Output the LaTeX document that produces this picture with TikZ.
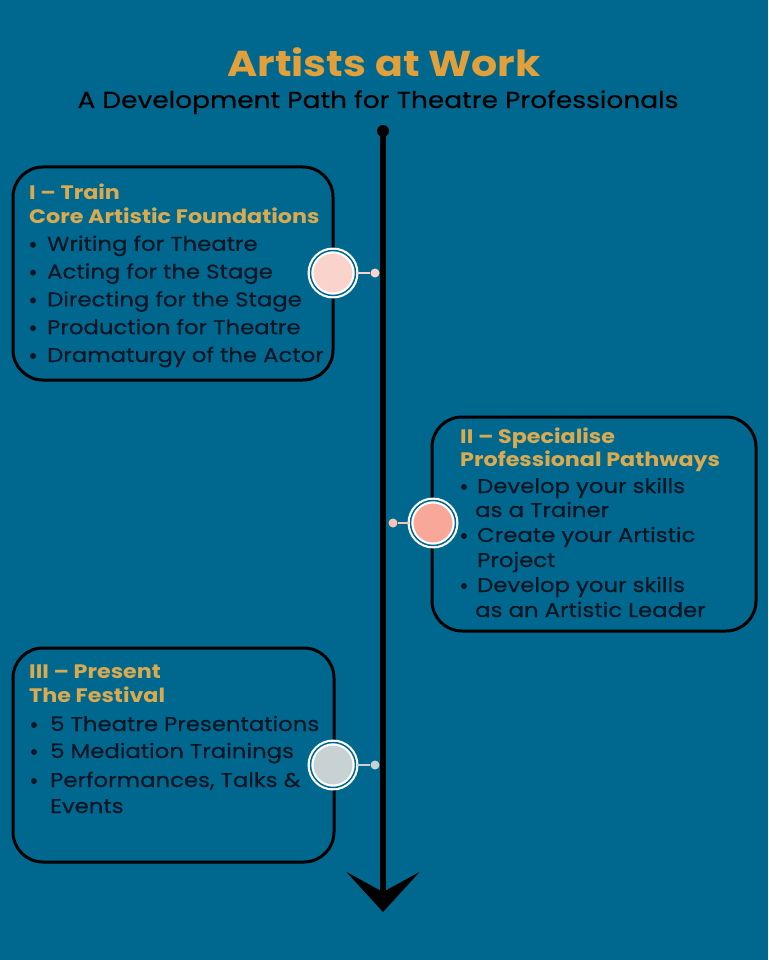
\documentclass[tikz,border=0pt]{standalone}
\usepackage{fontspec}
\setmainfont{Poppins}[FakeStretch=1.14]
\newfontfamily\bodyfont{Poppins}[FakeStretch=1.14,FakeBold=0.5]
\usetikzlibrary{arrows.meta}
\definecolor{bgblue}{RGB}{0,104,143}
\definecolor{titlegold}{RGB}{226,160,58}
\definecolor{headgold}{RGB}{218,170,80}
\definecolor{ink}{RGB}{10,22,36}
\definecolor{pinkA}{RGB}{250,212,204}
\definecolor{pinkB}{RGB}{247,168,152}
\definecolor{greyC}{RGB}{200,210,210}
\begin{document}
\begin{tikzpicture}[x=1pt,y=-1pt,
    box/.style={draw=black,line width=3pt,rounded corners=30pt},
    head/.style={anchor=base west,inner sep=0pt,text=headgold,font=\fontsize{19.5}{24}\selectfont\bfseries},
    item/.style={anchor=base west,inner sep=0pt,text=ink,font=\bodyfont\fontsize{20}{24}\selectfont},
    stop/.style={circle,draw=white,line width=2.2pt,double=bgblue,double distance=1.5pt,inner sep=0pt,minimum size=45pt},
    pin/.style={circle,inner sep=0pt,minimum size=9pt}]
\fill[bgblue] (0,0) rectangle (768,960);
% title
\node[anchor=base,inner sep=0pt,text=titlegold,font=\fontsize{36}{40}\selectfont\bfseries] (title) at (384,77) {Artists at Work};
\node[anchor=base,inner sep=0pt,text=black,font=\bodyfont\fontsize{23.2}{26}\selectfont] (sub) at (378,108) {A Development Path for Theatre Professionals};
% timeline
\node[circle,fill=black,inner sep=0pt,minimum size=12pt] (top) at (383,131) {};
\coordinate (end) at (383,912);
\draw[line width=6pt,-{Stealth[length=40pt,width=73pt,inset=20pt]}] (top.center) -- (end);
% I - Train
\draw[box] (13,167) rectangle (333,380);
\node[head] (h1a) at (29,199) {I – Train};
\node[head] (h1b) at (29,223) {Core Artistic Foundations};
\foreach \t [count=\i] in {Writing for Theatre,Acting for the Stage,Directing for the Stage,Production for Theatre,Dramaturgy of the Actor}{
  \fill[ink] (33,{223+27.8*\i-6}) circle (3pt);
  \node[item] (a\i) at (47,{223+27.8*\i}) {\t};
}
\node[pin,fill=pinkA] (d1) at (375,273) {};
\node[stop,fill=pinkA] (c1) at (333,273) {};
\draw[pinkA,line width=2pt] (c1) -- (d1);
% II - Specialise
\draw[box] (432,417) rectangle (756,631);
\node[head] (h2a) at (460,443) {II – Specialise};
\node[head] (h2b) at (460,466) {Professional Pathways};
\foreach \y in {493,542,592} \fill[ink] (464,\y-6) circle (3pt);
\node[item] (b1) at (477,493) {Develop your skills};
\node[item] (b2) at (475,517) {as a Trainer};
\node[item] (b3) at (477,542) {Create your Artistic};
\node[item] (b4) at (477,567) {Project};
\node[item] (b5) at (477,592) {Develop your skills};
\node[item] (b6) at (475,617) {as an Artistic Leader};
\node[pin,fill=pinkB!70!white] (d2) at (393,523) {};
\node[stop,fill=pinkB] (c2) at (433,523) {};
\draw[pinkB!70!white,line width=2pt] (c2) -- (d2);
% III - Present
\draw[box] (13,648) rectangle (334,862);
\node[head] (h3a) at (29,678) {III – Present};
\node[head] (h3b) at (29,702) {The Festival};
\foreach \y in {731,758,787} \fill[ink] (34,\y-6) circle (3pt);
\node[item] (e1) at (50,731) {5 Theatre Presentations};
\node[item] (e2) at (50,758) {5 Mediation Trainings};
\node[item] (e3) at (50,787) {Performances, Talks \&};
\node[item] (e4) at (50,813) {Events};
\node[pin,fill=greyC] (d3) at (375,765) {};
\node[stop,fill=greyC] (c3) at (333,765) {};
\draw[greyC,line width=2pt] (c3) -- (d3);
\end{tikzpicture}
\end{document}
